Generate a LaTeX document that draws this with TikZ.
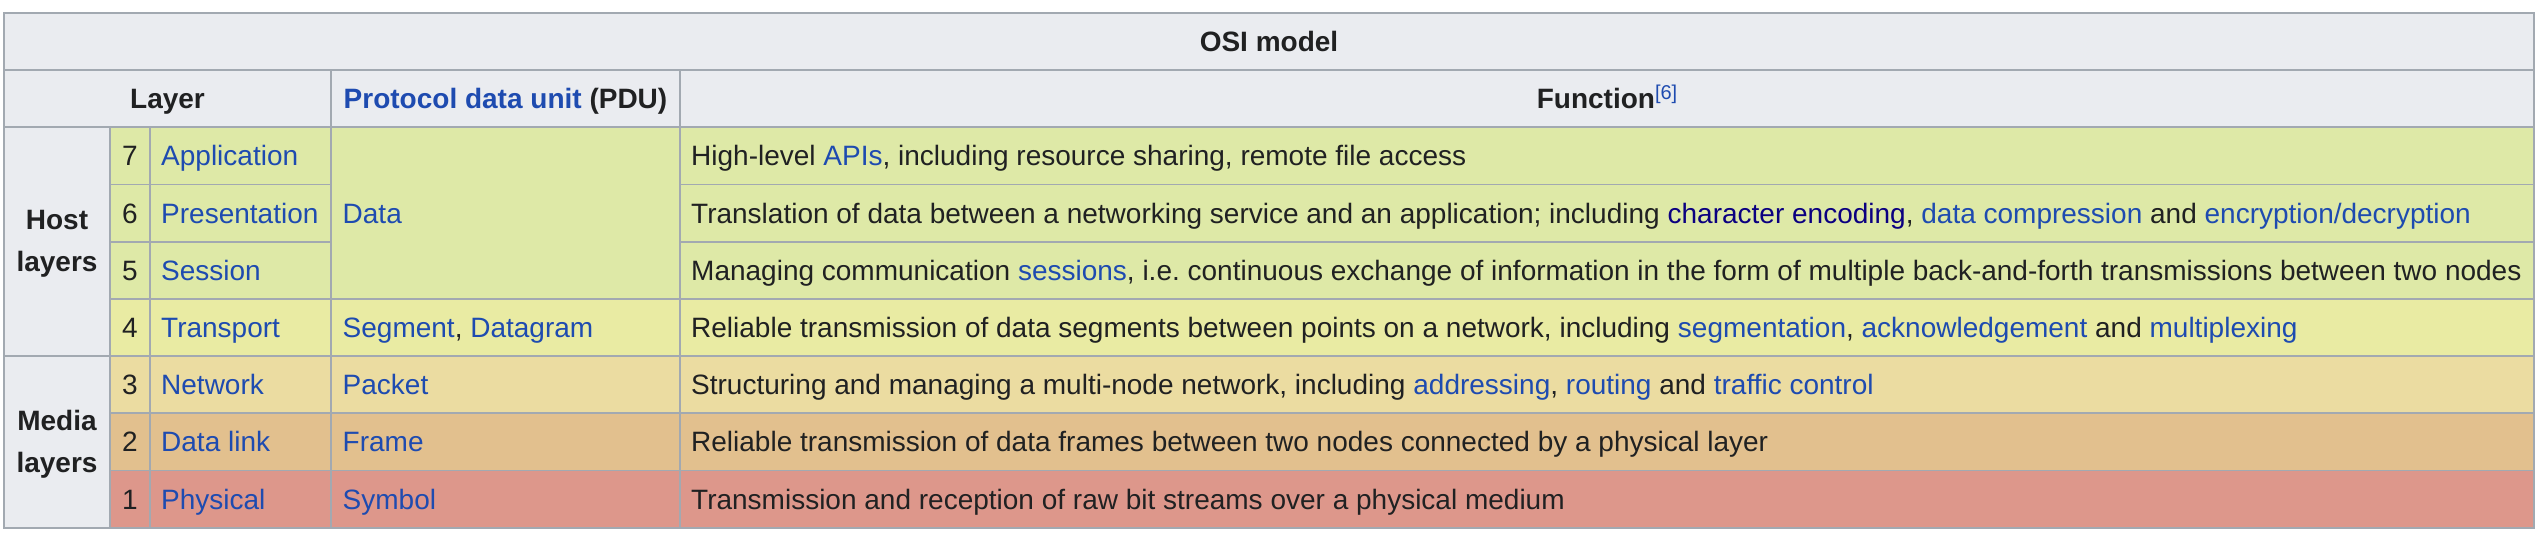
\documentclass[tikz,border=0pt]{standalone}
\usepackage{fontspec}
\setmainfont{Liberation Sans}
\usepackage{tikz}
\usetikzlibrary{positioning}

\definecolor{headbg}{HTML}{EAECF0}
\definecolor{rulegray}{HTML}{A2A9B1}
\definecolor{ink}{HTML}{202122}
\definecolor{wplink}{HTML}{1E4BB0}
\definecolor{wpvisited}{HTML}{0B0080}
\definecolor{hostbg}{HTML}{DEE9A7}
\definecolor{transbg}{HTML}{E9EBA3}
\definecolor{netbg}{HTML}{EBDCA1}
\definecolor{linkbg}{HTML}{E2C08E}
\definecolor{physbg}{HTML}{DD978B}

\newcommand{\lnk}[1]{\textcolor{wplink}{#1}}
\newcommand{\vlnk}[1]{\textcolor{wpvisited}{#1}}
\frenchspacing

\begin{document}
\begin{tikzpicture}[x=1pt, y=-1pt,
    cell/.style={inner sep=0pt, text=ink, font=\fontsize{28}{34}\selectfont},
    headtxt/.style={cell, font=\fontsize{28}{34}\selectfont\bfseries, anchor=base},
    numtxt/.style={cell, anchor=base},
    bodytxt/.style={cell, anchor=base west},
    grid/.style={draw=rulegray, line width=1.8pt}]
    \useasboundingbox (0,0) rectangle (2542,538);

    % Header backgrounds
    \fill[headbg] (4,12.7) rectangle (2534,127.1);
    \fill[headbg] (4,127.1) rectangle (110,527.7);

    % Layer colours
    \fill[hostbg] (110,127.1) rectangle (2534,298.8);
    \fill[transbg] (110,298.8) rectangle (2534,356);
    \fill[netbg] (110,356) rectangle (2534,413.2);
    \fill[linkbg] (110,413.2) rectangle (2534,470.5);
    \fill[physbg] (110,470.5) rectangle (2534,527.7);

    % Table rules
    \draw[grid] (4,12.7) rectangle (2534,527.7);
    \draw[grid] (4,69.9) -- (2534,69.9);
    \draw[grid] (4,127.1) -- (2534,127.1);
    \draw[grid] (110,184.4) -- (331,184.4) (680,184.4) -- (2534,184.4);
    \draw[grid] (110,241.6) -- (331,241.6) (680,241.6) -- (2534,241.6);
    \draw[grid] (110,298.8) -- (2534,298.8);
    \draw[grid] (4,356) -- (2534,356);
    \draw[grid] (110,413.2) -- (2534,413.2);
    \draw[grid] (110,470.5) -- (2534,470.5);
    \draw[grid] (110,127.1) -- (110,527.7);
    \draw[grid] (150,127.1) -- (150,527.7);
    \draw[grid] (331,69.9) -- (331,527.7);
    \draw[grid] (680,69.9) -- (680,527.7);

    % Headings
    \node[headtxt] (title) at (1269,51.3) {OSI model};
    \node[headtxt] (hlayer) at (167.5,108.5) {Layer};
    \node[headtxt] (hpdu) at (505.5,108.5) {\lnk{Protocol data unit} (PDU)};
    \node[headtxt] (hfunc) at (1607,108.5) {Function{\fontsize{20}{24}\selectfont\mdseries\raisebox{9pt}{\lnk{[6]}}}};

    % Layer groups
    \node[headtxt] (host1) at (57,229.5) {Host};
    \node[headtxt] (host2) at (57,271.5) {layers};
    \node[headtxt] (media1) at (57,430) {Media};
    \node[headtxt] (media2) at (57,472) {layers};

    % Layer numbers
    \node[numtxt] (n7) at (130,165.8) {7};
    \node[numtxt] (n6) at (130,223) {6};
    \node[numtxt] (n5) at (130,280.2) {5};
    \node[numtxt] (n4) at (130,337.4) {4};
    \node[numtxt] (n3) at (130,394.6) {3};
    \node[numtxt] (n2) at (130,451.9) {2};
    \node[numtxt] (n1) at (130,509.1) {1};

    % Layer names
    \node[bodytxt] (app) at (161,165.8) {\lnk{Application}};
    \node[bodytxt] (pres) at (161,223) {\lnk{Presentation}};
    \node[bodytxt] (sess) at (161,280.2) {\lnk{Session}};
    \node[bodytxt] (trans) at (161,337.4) {\lnk{Transport}};
    \node[bodytxt] (net) at (161,394.6) {\lnk{Network}};
    \node[bodytxt] (dlink) at (161,451.9) {\lnk{Data link}};
    \node[bodytxt] (phys) at (161,509.1) {\lnk{Physical}};

    % Data units
    \node[bodytxt] (pdata) at (342.5,223) {\lnk{Data}};
    \node[bodytxt] (pseg) at (342.5,337.4) {\lnk{Segment}, \lnk{Datagram}};
    \node[bodytxt] (ppkt) at (342.5,394.6) {\lnk{Packet}};
    \node[bodytxt] (pframe) at (342.5,451.9) {\lnk{Frame}};
    \node[bodytxt] (psym) at (342.5,509.1) {\lnk{Symbol}};

    % Functions
    \node[bodytxt] (f7) at (691,165.8) {High-level \lnk{APIs}, including resource sharing, remote file access};
    \node[bodytxt] (f6) at (691,223) {Translation of data between a networking service and an application; including \vlnk{character encoding}, \lnk{data compression} and \lnk{encryption/decryption}};
    \node[bodytxt] (f5) at (691,280.2) {Managing communication \lnk{sessions}, i.e. continuous exchange of information in the form of multiple back-and-forth transmissions between two nodes};
    \node[bodytxt] (f4) at (691,337.4) {Reliable transmission of data segments between points on a network, including \lnk{segmentation}, \lnk{acknowledgement} and \lnk{multiplexing}};
    \node[bodytxt] (f3) at (691,394.6) {Structuring and managing a multi-node network, including \lnk{addressing}, \lnk{routing} and \lnk{traffic control}};
    \node[bodytxt] (f2) at (691,451.9) {Reliable transmission of data frames between two nodes connected by a physical layer};
    \node[bodytxt] (f1) at (691,509.1) {Transmission and reception of raw bit streams over a physical medium};
\end{tikzpicture}
\end{document}
